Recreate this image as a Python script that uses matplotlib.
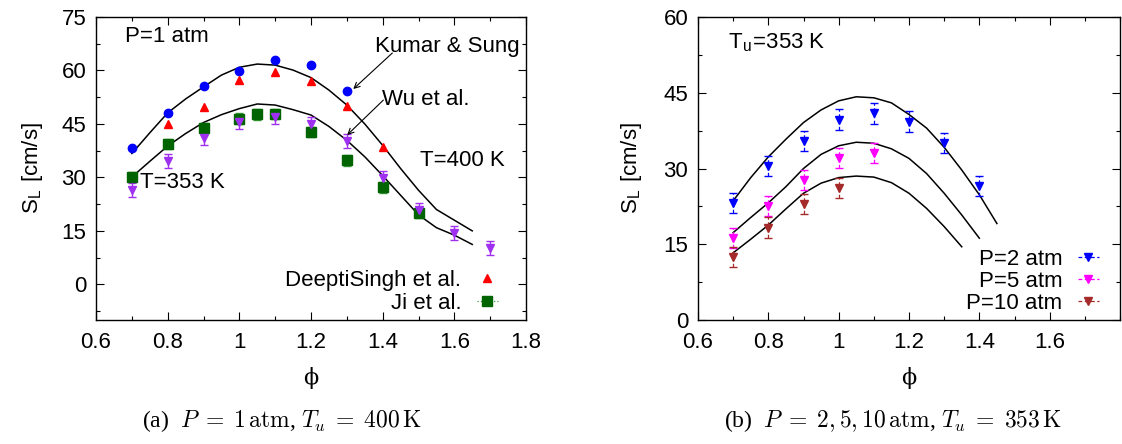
import matplotlib
matplotlib.use("Agg")
import matplotlib.pyplot as plt
from matplotlib.lines import Line2D
import numpy as np

plt.rcParams['font.family'] = ['Liberation Sans', 'DejaVu Sans']
plt.rcParams['mathtext.fontset'] = 'cm'

# ---------------- Panel (a) data: P = 1 atm ----------------
phi_curve_a = [0.70, 0.75, 0.80, 0.85, 0.90, 0.95, 1.00, 1.05, 1.10, 1.15, 1.20,
               1.25, 1.30, 1.35, 1.40, 1.45, 1.50, 1.55, 1.60, 1.65]
sl_T400 = [36.7, 42.5, 48.1, 52.0, 55.4, 58.7, 60.9, 61.8, 61.5, 60.1, 58.0,
           54.5, 50.3, 45.0, 39.0, 32.5, 26.4, 21.0, 18.0, 15.0]
sl_T353 = [30.1, 34.5, 38.8, 42.3, 45.4, 47.6, 49.3, 50.6, 50.3, 49.0, 47.5,
           44.3, 40.4, 35.8, 30.5, 25.0, 19.5, 15.9, 13.8, 11.2]

phi_kumar = [0.7, 0.8, 0.9, 1.0, 1.1, 1.2, 1.3]
sl_kumar = [38.3, 48.1, 55.7, 59.8, 62.8, 61.6, 54.3]

phi_deepti = [0.8, 0.9, 1.0, 1.1, 1.2, 1.3, 1.4]
sl_deepti = [44.9, 49.7, 57.2, 59.7, 57.0, 49.9, 38.6]

phi_ji = [0.7, 0.8, 0.9, 1.0, 1.05, 1.1, 1.2, 1.3, 1.4, 1.5]
sl_ji = [30.1, 39.4, 43.8, 46.5, 47.7, 47.8, 42.7, 34.8, 27.2, 20.0]
err_ji = [1.5, 1.5, 1.5, 1.5, 1.5, 1.5, 1.5, 1.5, 1.5, 1.5]

phi_wu = [0.7, 0.8, 0.9, 1.0, 1.1, 1.2, 1.3, 1.4, 1.5, 1.6, 1.7]
sl_wu = [26.4, 34.7, 41.1, 45.6, 47.0, 44.9, 40.3, 29.9, 20.9, 14.5, 10.3]
err_wu = [2.0, 2.0, 2.0, 2.0, 2.0, 2.0, 2.0, 2.0, 2.0, 2.0, 2.0]

# ---------------- Panel (b) data: Tu = 353 K ----------------
phi_c2 = [0.70, 0.75, 0.80, 0.85, 0.90, 0.95, 1.00, 1.05, 1.10, 1.15, 1.20,
          1.25, 1.30, 1.35, 1.40, 1.45]
sl_c2 = [23.6, 28.2, 32.3, 35.8, 39.1, 41.6, 43.4, 44.2, 44.0, 43.0, 40.7,
         38.0, 34.2, 29.7, 24.8, 19.1]
phi_c5 = [0.70, 0.75, 0.80, 0.85, 0.90, 0.95, 1.00, 1.05, 1.10, 1.15, 1.20,
          1.25, 1.30, 1.35, 1.40]
sl_c5 = [17.3, 20.3, 23.2, 26.4, 30.0, 32.8, 34.5, 35.2, 35.0, 33.9, 32.0,
         29.0, 25.1, 20.8, 16.2]
phi_c10 = [0.70, 0.75, 0.80, 0.85, 0.90, 0.95, 1.00, 1.05, 1.10, 1.15, 1.20,
           1.25, 1.30, 1.35]
sl_c10 = [13.3, 16.0, 18.8, 22.0, 25.1, 27.1, 28.2, 28.5, 28.3, 27.2, 25.1,
          22.1, 18.5, 14.5]

phi_p2 = [0.7, 0.8, 0.9, 1.0, 1.1, 1.2, 1.3, 1.4]
sl_p2 = [23.1, 30.5, 35.4, 39.7, 40.9, 39.3, 35.0, 26.5]
err_p2 = [2.0, 2.0, 2.0, 2.0, 2.0, 2.0, 2.0, 2.0]
phi_p5 = [0.7, 0.8, 0.9, 1.0, 1.1]
sl_p5 = [16.3, 22.6, 27.7, 32.1, 33.1]
err_p5 = [2.0, 2.0, 2.0, 2.0, 2.0]
phi_p10 = [0.7, 0.8, 0.9, 1.0]
sl_p10 = [12.5, 18.3, 23.0, 26.2]
err_p10 = [2.0, 2.0, 2.0, 2.0]

FS = 16

fig = plt.figure(figsize=(11.22, 4.44), dpi=100)
ax1 = fig.add_axes([96/1122, 1-320/444, 430/1122, 303/444])
ax2 = fig.add_axes([698/1122, 1-320/444, 422/1122, 303/444])


def style_axes(ax, xticks, yticks, yminor, ylabelpad):
    ax.set_xticks(xticks)
    ax.set_yticks(yticks)
    ax.set_xticks(np.round(np.arange(0.6, 1.81, 0.1), 2), minor=True)
    ax.set_yticks(yminor, minor=True)
    ax.tick_params(which='both', direction='in', top=True, right=True,
                   labelsize=FS, width=0.8)
    ax.tick_params(axis='x', which='both', pad=9)
    ax.tick_params(axis='y', which='both', pad=7)
    ax.tick_params(which='major', length=6)
    ax.tick_params(which='minor', length=3)
    for s in ax.spines.values():
        s.set_linewidth(1.0)
    ax.set_xlabel('ϕ', fontsize=FS, labelpad=10, family='DejaVu Serif')
    ax.set_ylabel(r'S$_\mathregular{L}$ [cm/s]', fontsize=FS,
                  labelpad=ylabelpad)


# ---------- Panel (a) ----------
ax1.plot(phi_curve_a, sl_T400, color='black', lw=1.1)
ax1.plot(phi_curve_a, sl_T353, color='black', lw=1.1)
ax1.plot(phi_kumar, sl_kumar, 'o', color='#0000ff', ms=6, ls='none')
ax1.plot(phi_deepti, sl_deepti, '^', color='#ff0000', ms=5.5, ls='none')
e = ax1.errorbar(phi_ji, sl_ji, yerr=err_ji, fmt='s', color='#006400', ms=6.5,
                 ecolor='#3a9a3a', elinewidth=0.9, capsize=3)
e[2][0].set_linestyle(':')
ew = ax1.errorbar(phi_wu, sl_wu, yerr=err_wu, fmt='v', color='#a030f0', ms=6,
                  elinewidth=1.0, capsize=3)

ax1.set_xlim(0.6, 1.8)
ax1.set_ylim(-10, 75)
style_axes(ax1, [0.6, 0.8, 1.0, 1.2, 1.4, 1.6, 1.8], [0, 15, 30, 45, 60, 75],
           np.arange(-7.5, 75.1, 7.5), 12)
ax1.set_xticklabels(['0.6', '0.8', '1', '1.2', '1.4', '1.6', '1.8'])

ax1.text(0.067, 0.937, 'P=1 atm', transform=ax1.transAxes, fontsize=FS,
         ha='left', va='center')
ax1.text(1.58, 66.6, 'Kumar & Sung', fontsize=FS, ha='center', va='center')
ax1.annotate('', xy=(1.318, 54.8), xytext=(1.427, 64.9),
             arrowprops=dict(arrowstyle='->', color='black', lw=0.8,
                             shrinkA=0, shrinkB=0))
ax1.text(1.52, 51.8, 'Wu et al.', fontsize=FS, ha='center', va='center')
ax1.annotate('', xy=(1.301, 41.9), xytext=(1.402, 51.7),
             arrowprops=dict(arrowstyle='->', color='black', lw=0.8,
                             shrinkA=0, shrinkB=0))
ax1.text(1.622, 34.8, 'T=400 K', fontsize=FS, ha='center', va='center')
ax1.text(0.723, 28.7, 'T=353 K', fontsize=FS, ha='left', va='center')

h_deepti = Line2D([], [], ls='none', marker='^', color='#ff0000', ms=5.5)
h_ji = Line2D([], [], ls=':', lw=0.9, color='#3a9a3a', marker='s',
              mfc='#006400', mec='#006400', ms=6.5)
ax1.legend([h_deepti, h_ji], ['DeeptiSingh et al.', 'Ji et al.'],
           loc='lower right', bbox_to_anchor=(0.935, 0.02), frameon=False,
           markerfirst=False, fontsize=FS, handlelength=0.95,
           labelspacing=0.1, handletextpad=0.7, borderaxespad=0,
           borderpad=0)

# ---------- Panel (b) ----------
ax2.plot(phi_c2, sl_c2, color='black', lw=1.1)
ax2.plot(phi_c5, sl_c5, color='black', lw=1.1)
ax2.plot(phi_c10, sl_c10, color='black', lw=1.1)
handles = []
labels = []
for ph, sl, er, col, lab in [(phi_p2, sl_p2, err_p2, '#0000ff', 'P=2 atm'),
                              (phi_p5, sl_p5, err_p5, '#ff00ff', 'P=5 atm'),
                              (phi_p10, sl_p10, err_p10, '#a52a2a', 'P=10 atm')]:
    eb = ax2.errorbar(ph, sl, yerr=er, fmt='v', color=col, ms=6,
                      elinewidth=0.9, capsize=3)
    eb[2][0].set_linestyle((0, (3, 2)))
    handles.append(Line2D([], [], ls=(0, (3, 2)), lw=0.9, color=col,
                          marker='v', ms=6))
    labels.append(lab)

ax2.set_xlim(0.6, 1.78)
ax2.set_ylim(0, 60)
style_axes(ax2, [0.6, 0.8, 1.0, 1.2, 1.4, 1.6], [0, 15, 30, 45, 60],
           np.arange(0, 60.1, 7.5), 14)
ax2.set_xticklabels(['0.6', '0.8', '1', '1.2', '1.4', '1.6'])
ax2.text(0.071, 0.917, r'T$_\mathregular{u}$=353 K', transform=ax2.transAxes,
         fontsize=FS, ha='left', va='center')
ax2.legend(handles, labels, loc='lower right', bbox_to_anchor=(0.95, 0.02),
           frameon=False, markerfirst=False, fontsize=FS, handlelength=0.95,
           labelspacing=0.05, handletextpad=0.7, borderaxespad=0,
           borderpad=0)

# ---------- Captions ----------
fig.text(282/1122, 1-421/444,
         r'(a)  $P\;=\;1\,\mathrm{atm}$, $T_u\;=\;400\,\mathrm{K}$',
         fontsize=17, ha='center', va='center', family='Liberation Serif')
fig.text(893/1122, 1-421/444,
         r'(b)  $P\;=\;2, 5, 10\,\mathrm{atm}$, $T_u\;=\;353\,\mathrm{K}$',
         fontsize=17, ha='center', va='center', family='Liberation Serif')

fig.savefig('out.png', dpi=100)
